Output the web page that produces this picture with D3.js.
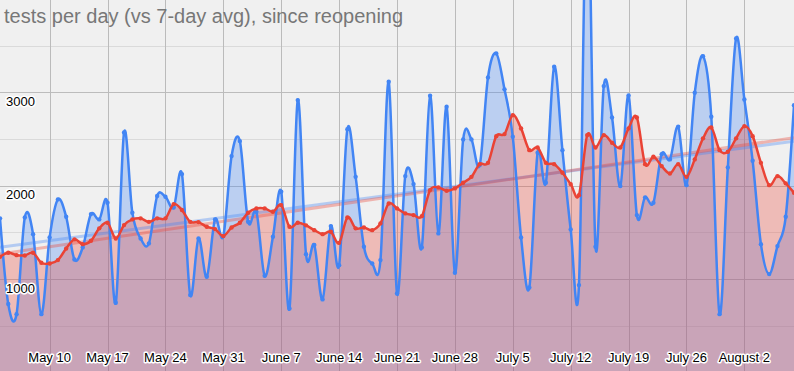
<!DOCTYPE html>
<html><head><meta charset="utf-8">
<script src="https://cdn.jsdelivr.net/npm/d3@7"></script>
<style>
html,body{margin:0;padding:0;background:#f0f0f0;}
svg{display:block;}
text{font-family:"Liberation Sans",Arial,sans-serif;}
</style></head>
<body>
<svg id="chart" width="794" height="371"></svg>
<script>
const title = "tests per day (vs 7-day avg), since reopening";
const dates = ["2020-05-04","2020-05-05","2020-05-06","2020-05-07","2020-05-08","2020-05-09","2020-05-10","2020-05-11","2020-05-12","2020-05-13","2020-05-14","2020-05-15","2020-05-16","2020-05-17","2020-05-18","2020-05-19","2020-05-20","2020-05-21","2020-05-22","2020-05-23","2020-05-24","2020-05-25","2020-05-26","2020-05-27","2020-05-28","2020-05-29","2020-05-30","2020-05-31","2020-06-01","2020-06-02","2020-06-03","2020-06-04","2020-06-05","2020-06-06","2020-06-07","2020-06-08","2020-06-09","2020-06-10","2020-06-11","2020-06-12","2020-06-13","2020-06-14","2020-06-15","2020-06-16","2020-06-17","2020-06-18","2020-06-19","2020-06-20","2020-06-21","2020-06-22","2020-06-23","2020-06-24","2020-06-25","2020-06-26","2020-06-27","2020-06-28","2020-06-29","2020-06-30","2020-07-01","2020-07-02","2020-07-03","2020-07-04","2020-07-05","2020-07-06","2020-07-07","2020-07-08","2020-07-09","2020-07-10","2020-07-11","2020-07-12","2020-07-13","2020-07-14","2020-07-15","2020-07-16","2020-07-17","2020-07-18","2020-07-19","2020-07-20","2020-07-21","2020-07-22","2020-07-23","2020-07-24","2020-07-25","2020-07-26","2020-07-27","2020-07-28","2020-07-29","2020-07-30","2020-07-31","2020-08-01","2020-08-02","2020-08-03","2020-08-04","2020-08-05","2020-08-06","2020-08-07","2020-08-08"];
const tests = [1650,732,624,1660,1481,624,1446,1853,1667,1210,1339,1696,1639,1817,746,2571,1710,1435,1382,1889,1881,1767,2124,828,1435,1024,1639,1460,2317,2478,1614,1721,1035,1453,1935,685,2917,1267,1364,782,1567,1149,2606,2095,1346,1167,1203,3113,846,2103,2017,1339,2963,1489,2845,1067,2496,2496,2221,3160,3417,3032,2524,1446,910,2353,2032,3274,2381,1532,935,5400,1346,3067,2731,1996,2967,1685,1875,1817,2338,2282,2631,2006,2995,3388,2738,624,2196,3578,2924,2267,1374,1053,1353,1667,2863];
const avg7 = [1238,1281,1256,1253,1281,1174,1167,1203,1328,1425,1374,1410,1543,1603,1435,1578,1639,1650,1613,1650,1650,1803,1739,1613,1610,1560,1535,1460,1553,1603,1710,1757,1757,1721,1792,1560,1603,1575,1524,1481,1506,1388,1660,1543,1553,1524,1596,1810,1757,1703,1685,1674,1953,1982,1945,1971,2031,2095,2231,2245,2531,2553,2756,2614,2381,2410,2245,2231,2138,2017,1899,2542,2410,2542,2460,2410,2614,2731,2231,2310,2210,2131,2231,2095,2282,2507,2624,2381,2363,2507,2638,2531,2245,2006,2103,2025,1924];
const xTickDates = ["2020-05-10","2020-05-17","2020-05-24","2020-05-31","2020-06-07","2020-06-14","2020-06-21","2020-06-28","2020-07-05","2020-07-12","2020-07-19","2020-07-26","2020-08-02"];
const xTickLabels = ["May 10","May 17","May 24","May 31","June 7","June 14","June 21","June 28","July 5","July 12","July 19","July 26","August 2"];
const yMajorTicks = [1000,2000,3000];
const yMinorTicks = [500,1500,2500,3500];
const yTickLabels = ["1000","2000","3000"];

const W = 794, H = 371;
const parse = d3.utcParse("%Y-%m-%d");
const dts = dates.map(parse);
const x = d3.scaleUtc().domain([dts[0], dts[dts.length-1]]).range([0, W]);
const y = d3.scaleLinear().domain([0, 4000]).range([372.4, -1]);

const BLUE = "#4285f4", RED = "#ea4335";
const svg = d3.select("#chart");
svg.append("rect").attr("width", W).attr("height", H).attr("fill", "#f0f0f0");
svg.append("defs").append("clipPath").attr("id","clip")
  .append("rect").attr("width", W).attr("height", H);

const grid = svg.append("g");
grid.selectAll(".minor").data(yMinorTicks).join("line")
  .attr("x1",0).attr("x2",W).attr("y1",d=>Math.round(y(d))+0.5).attr("y2",d=>Math.round(y(d))+0.5)
  .attr("stroke","#dadada").attr("stroke-width",1);
grid.selectAll(".major").data(yMajorTicks.concat([4000])).join("line")
  .attr("x1",0).attr("x2",W).attr("y1",d=>Math.round(y(d))+0.5).attr("y2",d=>Math.round(y(d))+0.5)
  .attr("stroke","#bcbcbc").attr("stroke-width",1);
grid.selectAll(".vx").data(xTickDates.map(parse)).join("line")
  .attr("x1",d=>Math.round(x(d))+0.5).attr("x2",d=>Math.round(x(d))+0.5).attr("y1",0).attr("y2",H)
  .attr("stroke","#bbbbbb").attr("stroke-width",1);

const plot = svg.append("g").attr("clip-path","url(#clip)");
const curve = d3.curveCardinal.tension(0);
const series = [
  {vals: tests, color: BLUE},
  {vals: avg7, color: RED}
];
series.forEach(s => {
  const area = d3.area().curve(curve).x((d,i)=>x(dts[i])).y0(y(0)).y1(d=>y(d));
  plot.append("path").datum(s.vals).attr("d", area).attr("fill", s.color).attr("fill-opacity", 0.3);
});

// linear regression trendlines
function regress(vals){
  const xs = dts.map(d=>+d), n = vals.length;
  const mx = d3.mean(xs), my = d3.mean(vals);
  let sxy=0, sxx=0;
  for(let i=0;i<n;i++){ sxy += (xs[i]-mx)*(vals[i]-my); sxx += (xs[i]-mx)**2; }
  const b = sxy/sxx, a = my - b*mx;
  return t => a + b*t;
}
series.forEach(s => {
  const f = regress(s.vals);
  const d0 = dts[0], d1 = dts[dts.length-1];
  plot.append("line")
    .attr("x1", x(d0)).attr("y1", y(f(+d0)))
    .attr("x2", x(d1)).attr("y2", y(f(+d1)))
    .attr("stroke", s.color).attr("stroke-opacity", 0.35).attr("stroke-width", 3);
});

series.forEach(s => {
  const line = d3.line().curve(curve).x((d,i)=>x(dts[i])).y(d=>y(d));
  plot.append("path").datum(s.vals).attr("d", line).attr("fill","none")
    .attr("stroke", s.color).attr("stroke-width", 2.5);
  plot.selectAll(null).data(s.vals).join("circle")
    .attr("cx",(d,i)=>x(dts[i])).attr("cy",d=>y(d)).attr("r",2.2).attr("fill", s.color);
});

// title
svg.append("text").attr("x",4).attr("y",23).attr("fill","#777777")
  .attr("font-size","20px").text(title);

// y labels
svg.selectAll(".yl").data(yMajorTicks).join("text")
  .attr("x",6).attr("y",d=>y(d)+13.7).attr("font-size","13px").attr("fill","#000")
  .attr("stroke","#ffffff").attr("stroke-width",3).attr("stroke-linejoin","round")
  .attr("paint-order","stroke").text((d,i)=>yTickLabels[i]);

// x labels
svg.selectAll(".xl").data(xTickDates).join("text")
  .attr("x",d=>x(parse(d))).attr("y",362).attr("text-anchor","middle")
  .attr("font-size","13px").attr("fill","#000")
  .attr("stroke","#ffffff").attr("stroke-width",3).attr("stroke-linejoin","round")
  .attr("paint-order","stroke").text((d,i)=>xTickLabels[i]);
</script>
</body></html>
